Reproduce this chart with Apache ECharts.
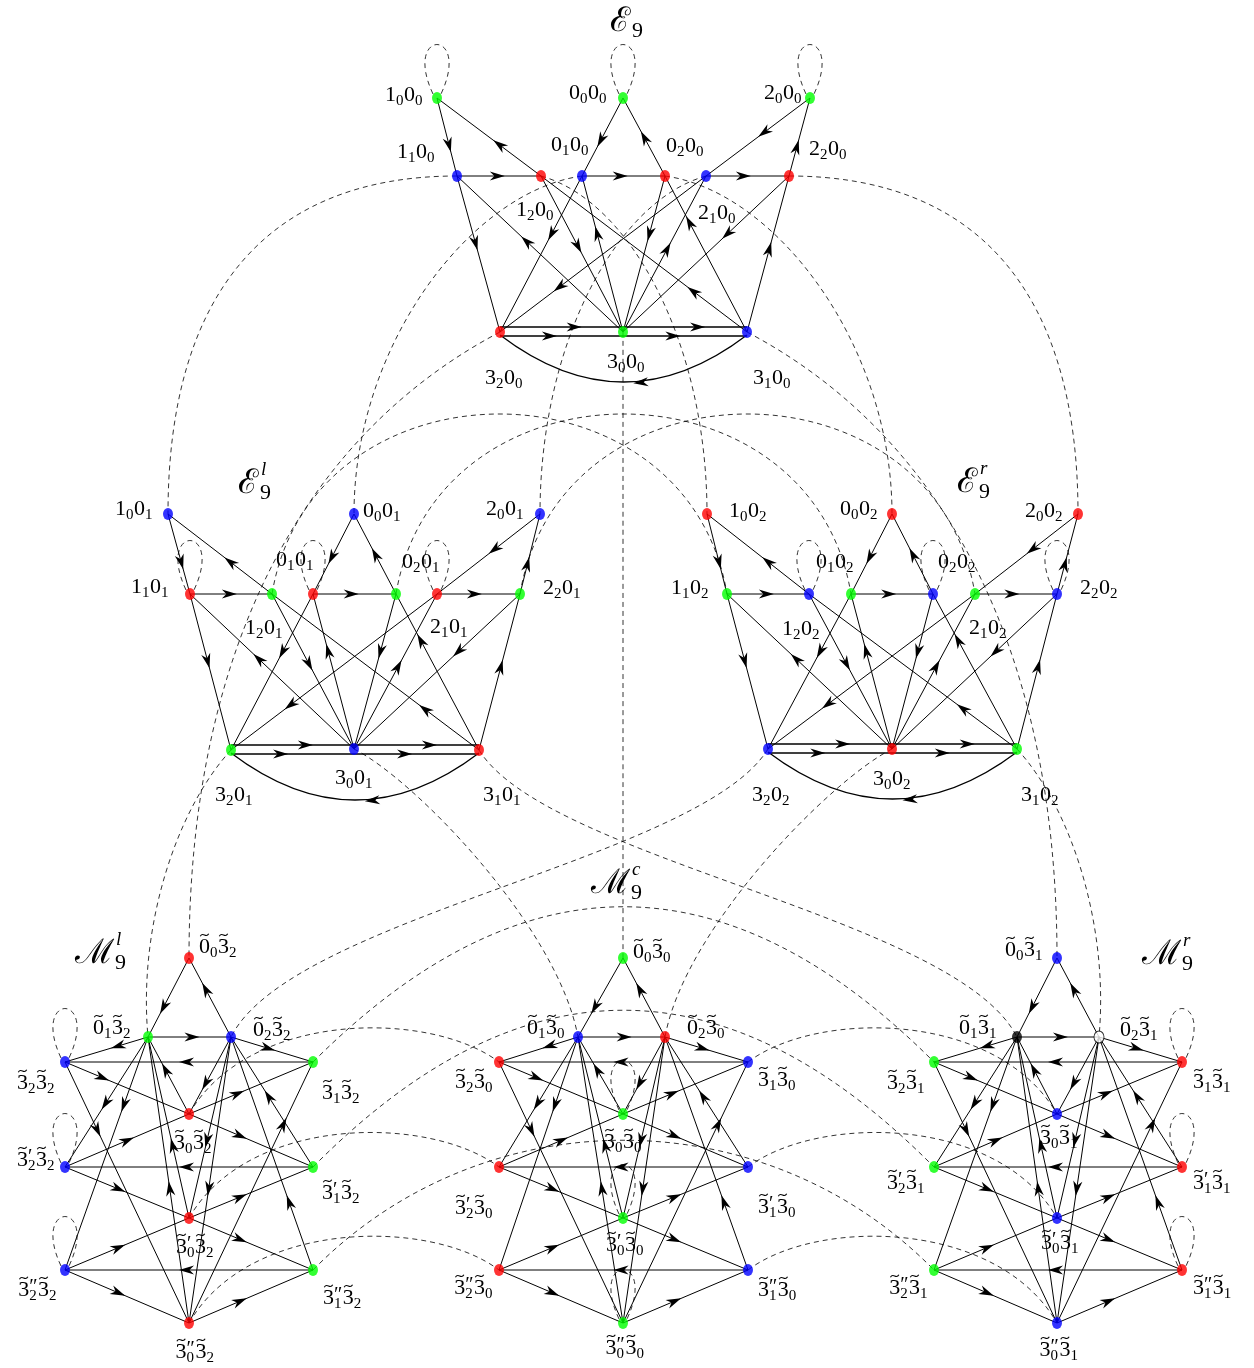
<!DOCTYPE html>
<html>
<head>
<meta charset="utf-8">
<script src="https://cdn.jsdelivr.net/npm/echarts@6.0.0/dist/echarts.min.js"></script>
<style>
  html, body { margin: 0; padding: 0; background: #fff; }
  #chart { width: 1254px; height: 1368px; }
</style>
</head>
<body>
<div id="chart"></div>
<script>
// ---- vertices of the three E graphs (same order in each) ----
const eKeys = ['T1', 'T0', 'T2', 'a1', 'a2', 'b1', 'b2', 'c1', 'c2', 'L', 'M', 'R'];
const eMain = ['1', '0', '2', '1', '1', '0', '0', '2', '2', '3', '3', '3'];
const eSub = ['0', '0', '0', '1', '2', '1', '2', '1', '2', '2', '0', '1'];
const ePrime = [0, 0, 0, 0, 0, 0, 0, 0, 0, 0, 0, 0];

const e9X = [437, 623, 810, 457, 541, 582, 665, 706, 789, 500, 623, 747];
const e9Y = [98, 98, 98, 176, 176, 176, 176, 176, 176, 332, 332, 332];
const e9Colour = ['g', 'g', 'g', 'b', 'r', 'b', 'r', 'b', 'r', 'r', 'g', 'b'];

const elX = [168, 354, 540, 190, 272, 313, 396, 437, 520, 231, 354, 479];
const elY = [514, 514, 514, 594, 594, 594, 594, 594, 594, 750, 749, 750];
const elColour = ['b', 'b', 'b', 'r', 'g', 'r', 'g', 'r', 'g', 'g', 'b', 'r'];

const erX = [707, 892, 1078, 727, 809, 851, 933, 975, 1057, 768, 892, 1017];
const erY = [514, 514, 514, 594, 594, 594, 594, 594, 594, 749, 749, 749];
const erColour = ['r', 'r', 'r', 'g', 'b', 'g', 'b', 'g', 'b', 'b', 'r', 'g'];

// ---- vertices of the three M graphs (labels carry a tilde) ----
const mKeys = ['t0', 't1', 't2', 'l1', 'r1', 'm1', 'l2', 'r2', 'm2', 'l3', 'r3', 'm3'];
const mMain = ['0', '0', '0', '3', '3', '3', '3', '3', '3', '3', '3', '3'];
const mSub = ['0', '1', '2', '2', '1', '0', '2', '1', '0', '2', '1', '0'];
const mPrime = [0, 0, 0, 0, 0, 0, 1, 1, 1, 2, 2, 2];
const mY = [958, 1037, 1037, 1062, 1062, 1114, 1167, 1167, 1218, 1270, 1270, 1323];

const mlX = [189, 148, 231, 65, 313, 189, 65, 313, 189, 65, 313, 189];
const mlColour = ['r', 'g', 'b', 'b', 'g', 'r', 'b', 'g', 'r', 'b', 'g', 'r'];

const mcX = [623, 578, 665, 499, 748, 623, 499, 748, 623, 499, 748, 623];
const mcColour = ['g', 'b', 'r', 'r', 'b', 'g', 'r', 'b', 'g', 'r', 'b', 'g'];

const mrX = [1057, 1017, 1099, 934, 1182, 1057, 934, 1182, 1057, 934, 1182, 1057];
const mrColour = ['b', 'k', 'w', 'g', 'r', 'b', 'g', 'r', 'b', 'g', 'r', 'b'];

// ---- directed edges inside each graph ----
const eEdges = [['T1', 'a1'], ['a2', 'T1'], ['a1', 'a2'], ['T0', 'b1'], ['b2', 'T0'], ['b1', 'b2'],
  ['T2', 'c1'], ['c2', 'T2'], ['c1', 'c2'], ['a1', 'L'], ['M', 'a1'], ['a2', 'M'], ['R', 'a2'],
  ['b1', 'L'], ['M', 'b1'], ['b2', 'M'], ['R', 'b2'], ['c1', 'L'], ['M', 'c1'], ['c2', 'M'], ['R', 'c2']];
const mEdges = [['t0', 't1'], ['t2', 't0'], ['t1', 't2'], ['t1', 'l1'], ['t2', 'r1'],
  ['r1', 'l1'], ['l1', 'm1'], ['m1', 'r1'], ['l2', 'm1'], ['m1', 'r2'],
  ['r2', 'l2'], ['l2', 'm2'], ['m2', 'r2'], ['l3', 'm2'], ['m2', 'r3'],
  ['r3', 'l3'], ['l3', 'm3'], ['m3', 'r3'],
  ['t1', 'l2'], ['t1', 'l3'], ['l1', 'm3'], ['m3', 'r1'], ['r2', 't2'], ['r3', 't2'],
  ['m1', 't1'], ['t2', 'm1'], ['m2', 't1'], ['m3', 't1'], ['t2', 'm2'], ['t2', 'm3']];

// ---- dashed links between graphs ----
const links = [
  ['E.a1', 'El.T1'], ['E.c2', 'Er.T2'], ['E.b1', 'El.T0'], ['E.c1', 'El.T2'], ['E.a2', 'Er.T1'], ['E.b2', 'Er.T0'],
  ['E.M', 'Mc.t0'], ['E.L', 'Ml.t0'], ['E.R', 'Mr.t0'],
  ['El.L', 'Ml.t1'], ['El.M', 'Mc.t1'], ['El.R', 'Mr.t1'],
  ['Er.L', 'Ml.t2'], ['Er.M', 'Mc.t2'], ['Er.R', 'Mr.t2'],
  ['El.a2', 'Er.a1'], ['El.b2', 'Er.b1'], ['El.c2', 'Er.c1'],
  ['Ml.m1', 'Mc.l1'], ['Ml.m2', 'Mc.l2'], ['Ml.m3', 'Mc.l3'],
  ['Mc.r1', 'Mr.m1'], ['Mc.r2', 'Mr.m2'], ['Mc.r3', 'Mr.m3'],
  ['Ml.r1', 'Mr.l1'], ['Ml.r2', 'Mr.l2'], ['Ml.r3', 'Mr.l3']
];

// ---- layout: arrow positions, curve bends, label offsets ----
const eArrowAt = [0.6, 0.4, 0.48, 0.54, 0.49, 0.46, 0.44, 0.37, 0.45, 0.43, 0.58, 0.45, 0.26,
  0.37, 0.63, 0.37, 0.7, 0.71, 0.53, 0.37, 0.53];
const mArrowAt = [0.62, 0.6, 0.53, 0.36, 0.45, 0.51, 0.3, 0.39, 0.5, 0.41, 0.51, 0.43, 0.41, 0.43, 0.41,
  0.51, 0.43, 0.41, 0.51, 0.29, 0.26, 0.76, 0.54, 0.29, 0.57, 0.6, 0.4, 0.47, 0.57, 0.53];
const linkBend = [
  [-190, 0, 0, -220], [190, 0, 0, -220], [-110, 15, 0, -170], [-90, 25, 0, -170], [90, 25, 0, -170], [110, 15, 0, -170],
  [0, 100, 0, -100], [-190, 100, 0, -318], [190, 100, 0, -318],
  [-55, 60, -10, -110], [60, 30, -20, -110], [68, 110, -61, -120],
  [-68, 110, 60, -120], [-60, 30, 20, -110], [55, 60, 10, -110],
  [40, -240, -40, -240], [40, -240, -40, -240], [40, -240, -40, -240],
  [60, -104, -69, -52], [60, -104, -69, -52], [60, -104, -69, -52],
  [69, -52, -60, -104], [69, -52, -60, -104], [69, -52, -60, -104],
  [207, -207, -207, -207], [207, -209, -207, -209], [170, -173, -170, -173]
];
const e9Lab = [[-14, -3, 'r'], [-16, -5, 'r'], [-8, -5, 'r'], [-22, -24, 'r'], [-6, 34, 'c'], [-12, -31, 'c'],
  [1, -30, 'l'], [11, 37, 'c'], [20, -27, 'l'], [4, 46, 'c'], [3, 30, 'c'], [25, 46, 'c']];
const elLab = [[-15, -5, 'r'], [9, -3, 'l'], [-16, -5, 'r'], [-21, -7, 'r'], [-8, 34, 'c'], [-18, -34, 'c'],
  [25, -32, 'c'], [12, 33, 'c'], [23, -6, 'l'], [3, 45, 'c'], [0, 29, 'c'], [23, 45, 'c']];
const erLab = [[22, -3, 'l'], [-14, -5, 'r'], [-15, -3, 'r'], [-18, -6, 'r'], [-8, 35, 'c'], [-16, -32, 'c'],
  [24, -32, 'c'], [13, 34, 'c'], [23, -6, 'l'], [3, 46, 'c'], [0, 30, 'c'], [23, 46, 'c']];
const mlLab = [[10, -11, 'l'], [-17, -9, 'r'], [22, -7, 'l'], [-10, 21, 'r'], [9, 31, 'l'], [4, 29, 'c'],
  [-10, -7, 'r'], [9, 26, 'l'], [6, 29, 'c'], [-8, 20, 'r'], [10, 28, 'l'], [6, 29, 'c']];
const mcLab = [[10, -6, 'l'], [-13, -9, 'r'], [22, -9, 'l'], [-6, 20, 'r'], [10, 18, 'l'], [0, 28, 'c'],
  [-6, 41, 'r'], [10, 40, 'l'], [2, 27, 'c'], [-6, 18, 'r'], [10, 20, 'l'], [2, 25, 'c']];
const mrLab = [[-14, -8, 'r'], [-20, -9, 'r'], [21, -7, 'l'], [-9, 21, 'r'], [11, 20, 'l'], [2, 24, 'c'],
  [-9, 16, 'r'], [11, 16, 'l'], [3, 25, 'c'], [-6, 18, 'r'], [11, 18, 'l'], [2, 27, 'c']];

const graphs = [
  { id: 'E', keys: eKeys, main: eMain, sub: eSub, prime: ePrime, tilde: false, tail: ['0', '0'], x: e9X, y: e9Y, colour: e9Colour, lab: e9Lab, loops: ['T1', 'T0', 'T2'] },
  { id: 'El', keys: eKeys, main: eMain, sub: eSub, prime: ePrime, tilde: false, tail: ['0', '1'], x: elX, y: elY, colour: elColour, lab: elLab, loops: ['a1', 'b1', 'c1'] },
  { id: 'Er', keys: eKeys, main: eMain, sub: eSub, prime: ePrime, tilde: false, tail: ['0', '2'], x: erX, y: erY, colour: erColour, lab: erLab, loops: ['a2', 'b2', 'c2'] },
  { id: 'Ml', keys: mKeys, main: mMain, sub: mSub, prime: mPrime, tilde: true, tail: ['3', '2'], x: mlX, y: mY, colour: mlColour, lab: mlLab, loops: ['l1', 'l2', 'l3'] },
  { id: 'Mc', keys: mKeys, main: mMain, sub: mSub, prime: mPrime, tilde: true, tail: ['3', '0'], x: mcX, y: mY, colour: mcColour, lab: mcLab, loops: ['m1', 'm2', 'm3'] },
  { id: 'Mr', keys: mKeys, main: mMain, sub: mSub, prime: mPrime, tilde: true, tail: ['3', '1'], x: mrX, y: mY, colour: mrColour, lab: mrLab, loops: ['r1', 'r2', 'r3'] }
];

const colourOf = { g: '#00ff00', b: '#0000ff', r: '#ff0000', k: '#000000', w: '#ffffff' };
const SERIF = '"Liberation Serif", "DejaVu Serif", serif';
const MAIN_SIZE = 22, SUB_SIZE = 15, PRIME_SIZE = 20;

// text measuring for hand-set subscripts / tildes / primes
const measureCtx = document.createElement('canvas').getContext('2d');
function textWidth(s, size) {
  measureCtx.font = size + 'px ' + SERIF;
  return measureCtx.measureText(s).width;
}
// parts: [[main, sub, tilde, primes], ...] -> pieces relative to label start
function setLabel(parts) {
  const pieces = [];
  let x = 0;
  parts.forEach(([m, s, tilde, primes]) => {
    const wm = textWidth(m, MAIN_SIZE);
    pieces.push({ t: m, x: x, size: MAIN_SIZE, dy: 0 });
    if (tilde) pieces.push({ tilde: true, x: x + wm / 2 });
    let wp = 0;
    if (primes) {
      const ps = primes === 1 ? '\u2032' : '\u2033';
      pieces.push({ t: ps, x: x + wm, size: PRIME_SIZE, dy: -2 });
      wp = textWidth(ps, PRIME_SIZE);
    }
    pieces.push({ t: s, x: x + wm, size: SUB_SIZE, dy: 6 });
    x += wm + Math.max(textWidth(s, SUB_SIZE), wp) + 0.5;
  });
  return { pieces: pieces, width: x };
}

// build lookups
const pos = {};
graphs.forEach(g => g.keys.forEach((k, i) => { pos[g.id + '.' + k] = [g.x[i], g.y[i]]; }));

const nodeData = [], labelData = [], labelSet = [], labelAlign = [], edgeData = [], arcData = [], loopData = [];
graphs.forEach(g => {
  const isE = g.keys === eKeys;
  g.keys.forEach((k, i) => {
    const c = g.colour[i];
    nodeData.push({
      value: [g.x[i], g.y[i]],
      itemStyle: { color: colourOf[c], borderColor: c === 'w' ? '#000' : colourOf[c], borderWidth: c === 'w' ? 1 : 0 }
    });
    labelData.push([g.x[i] + g.lab[i][0], g.y[i] + g.lab[i][1]]);
    labelSet.push(setLabel([[g.main[i], g.sub[i], g.tilde, g.prime[i]], [g.tail[0], g.tail[1], g.tilde, 0]]));
    labelAlign.push(g.lab[i][2]);
  });
  const list = isE ? eEdges : mEdges;
  const at = isE ? eArrowAt : mArrowAt;
  list.forEach((e, j) => {
    const a = pos[g.id + '.' + e[0]], b = pos[g.id + '.' + e[1]];
    edgeData.push([a[0], a[1], b[0], b[1], at[j], 0]);
  });
  if (isE) {
    const L = pos[g.id + '.L'], R = pos[g.id + '.R'];
    [[0.3, -5], [0.8, -5], [0.2, 4], [0.7, 4]].forEach(s => edgeData.push([L[0], L[1], R[0], R[1], s[0], s[1]]));
    arcData.push([R[0], R[1], L[0], L[1], 97, 0.43]);
  }
  g.loops.forEach(k => loopData.push(pos[g.id + '.' + k]));
});

const linkData = links.map((l, i) => {
  const a = pos[l[0]], b = pos[l[1]], s = linkBend[i];
  return [a[0], a[1], a[0] + s[0], a[1] + s[1], b[0] + s[2], b[1] + s[3], b[0], b[1]];
});

function arrowHead(cx, cy, dx, dy) {
  const len = 15, w = 4.6;
  const nx = -dy, ny = dx;
  const tip = [cx + dx * len / 2, cy + dy * len / 2];
  const bx = cx - dx * len / 2, by = cy - dy * len / 2;
  const notch = [bx + dx * len * 0.3, by + dy * len * 0.3];
  return {
    type: 'polygon',
    shape: { points: [tip, [bx + nx * w, by + ny * w], notch, [bx - nx * w, by - ny * w]] },
    style: { fill: '#000' }
  };
}

function renderEdge(params, api) {
  const a = api.coord([api.value(0), api.value(1)]);
  const b = api.coord([api.value(2), api.value(3)]);
  const t = api.value(4), off = api.value(5);
  let dx = b[0] - a[0], dy = b[1] - a[1];
  const d = Math.hypot(dx, dy); dx /= d; dy /= d;
  const nx = -dy, ny = dx;
  const x1 = a[0] + nx * off, y1 = a[1] + ny * off, x2 = b[0] + nx * off, y2 = b[1] + ny * off;
  return {
    type: 'group',
    children: [
      { type: 'line', shape: { x1: x1, y1: y1, x2: x2, y2: y2 }, style: { stroke: '#000', lineWidth: 1 } },
      arrowHead(x1 + (x2 - x1) * t, y1 + (y2 - y1) * t, dx, dy)
    ]
  };
}

function renderArc(params, api) {
  const x1 = api.value(0), y1 = api.value(1), x2 = api.value(2), y2 = api.value(3);
  const a = api.coord([x1, y1]), b = api.coord([x2, y2]);
  const c = api.coord([(x1 + x2) / 2, (y1 + y2) / 2 + api.value(4)]);
  const t = api.value(5);
  const px = (1 - t) * (1 - t) * a[0] + 2 * (1 - t) * t * c[0] + t * t * b[0];
  const py = (1 - t) * (1 - t) * a[1] + 2 * (1 - t) * t * c[1] + t * t * b[1];
  let dx = 2 * (1 - t) * (c[0] - a[0]) + 2 * t * (b[0] - c[0]);
  let dy = 2 * (1 - t) * (c[1] - a[1]) + 2 * t * (b[1] - c[1]);
  const d = Math.hypot(dx, dy); dx /= d; dy /= d;
  return {
    type: 'group',
    children: [
      { type: 'bezierCurve', shape: { x1: a[0], y1: a[1] + 3, cpx1: c[0], cpy1: c[1], x2: b[0], y2: b[1] + 3 },
        style: { stroke: '#000', lineWidth: 1.3, fill: 'none' } },
      arrowHead(px, py + 3, dx, dy)
    ]
  };
}

function renderLink(params, api) {
  const p = [0, 2, 4, 6].map(i => api.coord([api.value(i), api.value(i + 1)]));
  return {
    type: 'bezierCurve',
    shape: { x1: p[0][0], y1: p[0][1], cpx1: p[1][0], cpy1: p[1][1], cpx2: p[2][0], cpy2: p[2][1], x2: p[3][0], y2: p[3][1] },
    style: { stroke: '#000', lineWidth: 0.8, lineDash: [5, 4], fill: 'none' }
  };
}

function renderLoop(params, api) {
  const p = api.coord([api.value(0), api.value(1)]);
  return {
    type: 'bezierCurve',
    shape: { x1: p[0] - 4, y1: p[1] - 4, cpx1: p[0] - 35, cpy1: p[1] - 70, cpx2: p[0] + 35, cpy2: p[1] - 70, x2: p[0] + 4, y2: p[1] - 4 },
    style: { stroke: '#000', lineWidth: 0.8, lineDash: [5, 4], fill: 'none' }
  };
}

function renderLabel(params, api) {
  const p = api.coord([api.value(0), api.value(1)]);
  const set = labelSet[params.dataIndex], al = labelAlign[params.dataIndex];
  const x0 = al === 'l' ? p[0] : al === 'r' ? p[0] - set.width : p[0] - set.width / 2;
  const y0 = p[1];
  const children = set.pieces.map(pc => {
    if (pc.tilde) {
      const cx = x0 + pc.x, ty = y0 - 12;
      return {
        type: 'bezierCurve',
        shape: { x1: cx - 4.2, y1: ty + 1.2, cpx1: cx - 1.5, cpy1: ty - 4, cpx2: cx + 1.5, cpy2: ty + 4, x2: cx + 4.2, y2: ty - 1.2 },
        style: { stroke: '#000', lineWidth: 1.1, fill: 'none' }
      };
    }
    return {
      type: 'text', x: x0 + pc.x, y: y0 + pc.dy,
      style: { text: pc.t, fontSize: pc.size, fontFamily: SERIF, fill: '#000', align: 'left', verticalAlign: 'middle' }
    };
  });
  return { type: 'group', children: children };
}

function title(x, y, letter, sup) {
  const els = [
    { type: 'text', x: x, y: y, style: { text: letter, fontSize: 34, fontFamily: '"DejaVu Serif", serif', fill: '#000', align: 'right', verticalAlign: 'middle' } },
    { type: 'text', x: x + 1, y: y + 9, style: { text: '9', fontSize: 22, fontFamily: SERIF, fill: '#000', align: 'left', verticalAlign: 'middle' } }
  ];
  if (sup) {
    els.push({ type: 'text', x: x + 2, y: y - 14, style: { text: sup, fontSize: 19, fontStyle: 'italic', fontFamily: SERIF, fill: '#000', align: 'left', verticalAlign: 'middle' } });
  }
  return els;
}

const chart = echarts.init(document.getElementById('chart'));
chart.setOption({
  animation: false,
  backgroundColor: '#fff',
  grid: { left: 0, right: 0, top: 0, bottom: 0 },
  xAxis: { type: 'value', min: 0, max: 1254, show: false },
  yAxis: { type: 'value', min: 0, max: 1368, inverse: true, show: false },
  graphic: [].concat(
    title(631, 22, '\u2130', null),
    title(259, 484, '\u2130', 'l'),
    title(978, 483, '\u2130', 'r'),
    title(630, 884, '\u2133', 'c'),
    title(114, 954, '\u2133', 'l'),
    title(1181, 955, '\u2133', 'r')
  ),
  series: [
    { type: 'custom', name: 'links', renderItem: renderLink, data: linkData, z: 1, silent: true },
    { type: 'custom', name: 'loops', renderItem: renderLoop, data: loopData, z: 1, silent: true },
    { type: 'custom', name: 'edges', renderItem: renderEdge, data: edgeData, z: 2, silent: true },
    { type: 'custom', name: 'arcs', renderItem: renderArc, data: arcData, z: 2, silent: true },
    { type: 'custom', name: 'labels', renderItem: renderLabel, data: labelData, z: 3, silent: true },
    { type: 'scatter', name: 'vertices', data: nodeData, symbol: 'circle', symbolSize: [10, 12], z: 4, silent: true }
  ]
});
</script>
</body>
</html>
